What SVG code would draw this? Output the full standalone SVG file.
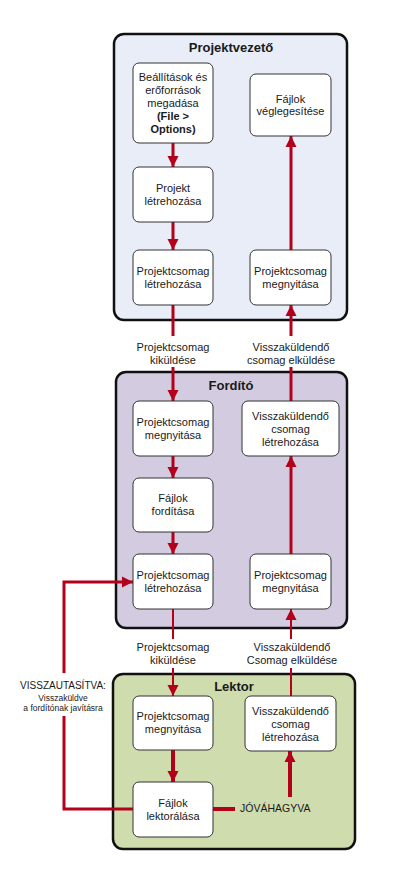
<svg xmlns="http://www.w3.org/2000/svg" width="406" height="877" viewBox="0 0 406 877">
<style>
  text { font-family: "Liberation Sans", Arial, sans-serif; fill: #1a1a1a; }
  .t { font-size: 11px; text-anchor: middle; }
  .b { font-weight: bold; }
  .title { font-size: 13px; font-weight: bold; text-anchor: middle; }
  .cont { stroke: #111; stroke-width: 2.5; }
  .box { fill: #ffffff; stroke: #333; stroke-width: 1; }
  .c3 { fill: none; stroke: #b3001b; stroke-width: 3; }
  .c2 { fill: none; stroke: #b3001b; stroke-width: 2; }
  .c4 { fill: none; stroke: #b3001b; stroke-width: 4; }
</style>
<defs>
  <marker id="ah" markerUnits="userSpaceOnUse" markerWidth="12" markerHeight="12" viewBox="0 0 12 12" refX="11" refY="6" orient="auto">
    <path d="M0,0.5 L11,6 L0,11.5 Z" fill="#b3001b"/>
  </marker>
</defs>
<rect width="406" height="877" fill="#ffffff"/>

<g id="pv">
  <rect class="cont" x="114" y="34" width="233" height="286" rx="10" fill="#e8edf7"/>
  <text class="title" x="231" y="51.5">Projektvezető</text>
</g>
<g id="fordito">
  <rect class="cont" x="116" y="372" width="231" height="256" rx="10" fill="#d3cbe0"/>
  <text class="title" x="231" y="390">Fordító</text>
</g>
<g id="lektor">
  <rect class="cont" x="113" y="674" width="242" height="175" rx="10" fill="#cfdcae"/>
  <text class="title" x="234" y="691">Lektor</text>
</g>

<g id="connectors">
  <line class="c3" x1="173" y1="143" x2="173" y2="167" marker-end="url(#ah)"/>
  <line class="c3" x1="173" y1="222" x2="173" y2="250" marker-end="url(#ah)"/>
  <line class="c3" x1="291" y1="250" x2="291" y2="136" marker-end="url(#ah)"/>
  <line class="c3" x1="173" y1="305" x2="173" y2="336"/>
  <line class="c3" x1="173" y1="367" x2="173" y2="401" marker-end="url(#ah)"/>
  <line class="c3" x1="291" y1="401" x2="291" y2="367"/>
  <line class="c3" x1="291" y1="336" x2="291" y2="305" marker-end="url(#ah)"/>
  <line class="c3" x1="173" y1="456" x2="173" y2="478" marker-end="url(#ah)"/>
  <line class="c3" x1="173" y1="532" x2="173" y2="554" marker-end="url(#ah)"/>
  <line class="c3" x1="291" y1="554" x2="291" y2="456" marker-end="url(#ah)"/>
  <line class="c2" x1="173" y1="609" x2="173" y2="639"/>
  <line class="c2" x1="173" y1="668" x2="173" y2="696" marker-end="url(#ah)"/>
  <line class="c2" x1="291" y1="696" x2="291" y2="668"/>
  <line class="c2" x1="291" y1="639" x2="291" y2="609" marker-end="url(#ah)"/>
  <line class="c4" x1="173" y1="750" x2="173" y2="782" marker-end="url(#ah)"/>
  <line class="c4" x1="213" y1="809" x2="235" y2="809"/>
  <line class="c4" x1="290" y1="797" x2="290" y2="751" marker-end="url(#ah)"/>
  <polyline class="c3" points="133,809 64,809 64,716"/>
  <polyline class="c3" points="64,673 64,582 133,582" marker-end="url(#ah)"/>
</g>

<g id="labels">
  <text class="t" x="173" y="351">Projektcsomag</text>
  <text class="t" x="173" y="364">kiküldése</text>
  <text class="t" x="291" y="351">Visszaküldendő</text>
  <text class="t" x="291" y="364">csomag elküldése</text>
  <text class="t" x="173" y="651">Projektcsomag</text>
  <text class="t" x="173" y="664">kiküldése</text>
  <text class="t" x="292" y="651">Visszaküldendő</text>
  <text class="t" x="292" y="664">Csomag elküldése</text>
  <text x="63" y="689" style="font-size:10px;text-anchor:middle">VISSZAUTASÍTVA:</text>
  <text x="63" y="701" style="font-size:8.5px;text-anchor:middle">Visszaküldve</text>
  <text x="63" y="711" style="font-size:8.5px;text-anchor:middle">a fordítónak javításra</text>
  <text x="240" y="811.5" style="font-size:10.5px">JÓVÁHAGYVA</text>
</g>

<g id="n1">
  <rect class="box" x="133" y="63" width="80" height="80" rx="6"/>
  <text class="t" x="173" y="81">Beállítások és</text>
  <text class="t" x="173" y="94">erőforrások</text>
  <text class="t" x="173" y="107">megadása</text>
  <text class="t b" x="173" y="120">(File &gt;</text>
  <text class="t b" x="173" y="133">Options)</text>
</g>
<g id="n2">
  <rect class="box" x="133" y="167" width="80" height="55" rx="6"/>
  <text class="t" x="173" y="192">Projekt</text>
  <text class="t" x="173" y="205">létrehozása</text>
</g>
<g id="n3">
  <rect class="box" x="133" y="250" width="80" height="55" rx="6"/>
  <text class="t" x="173" y="275">Projektcsomag</text>
  <text class="t" x="173" y="288">létrehozása</text>
</g>
<g id="n4">
  <rect class="box" x="250" y="250" width="81" height="55" rx="6"/>
  <text class="t" x="290.5" y="275">Projektcsomag</text>
  <text class="t" x="290.5" y="288">megnyitása</text>
</g>
<g id="n5">
  <rect class="box" x="250" y="74" width="81" height="62" rx="6"/>
  <text class="t" x="290.5" y="102.5">Fájlok</text>
  <text class="t" x="290.5" y="115">véglegesítése</text>
</g>

<g id="n6">
  <rect class="box" x="133" y="401" width="80" height="55" rx="6"/>
  <text class="t" x="173" y="426">Projektcsomag</text>
  <text class="t" x="173" y="439">megnyitása</text>
</g>
<g id="n7">
  <rect class="box" x="133" y="478" width="80" height="54" rx="6"/>
  <text class="t" x="173" y="502">Fájlok</text>
  <text class="t" x="173" y="515">fordítása</text>
</g>
<g id="n8">
  <rect class="box" x="133" y="554" width="80" height="55" rx="6"/>
  <text class="t" x="173" y="579">Projektcsomag</text>
  <text class="t" x="173" y="592">létrehozása</text>
</g>
<g id="n9">
  <rect class="box" x="242" y="401" width="97" height="55" rx="6"/>
  <text class="t" x="290.5" y="419.5">Visszaküldendő</text>
  <text class="t" x="290.5" y="432.5">csomag</text>
  <text class="t" x="290.5" y="445.5">létrehozása</text>
</g>
<g id="n10">
  <rect class="box" x="250" y="554" width="81" height="55" rx="6"/>
  <text class="t" x="290.5" y="579">Projektcsomag</text>
  <text class="t" x="290.5" y="592">megnyitása</text>
</g>

<g id="n11">
  <rect class="box" x="133" y="696" width="80" height="54" rx="6"/>
  <text class="t" x="173" y="720">Projektcsomag</text>
  <text class="t" x="173" y="733">megnyitása</text>
</g>
<g id="n12">
  <rect class="box" x="245" y="696" width="91" height="55" rx="6"/>
  <text class="t" x="290.5" y="714.5">Visszaküldendő</text>
  <text class="t" x="290.5" y="727.5">csomag</text>
  <text class="t" x="290.5" y="740.5">létrehozása</text>
</g>
<g id="n13">
  <rect class="box" x="133" y="782" width="80" height="55" rx="6"/>
  <text class="t" x="173" y="807">Fájlok</text>
  <text class="t" x="173" y="820">lektorálása</text>
</g>
</svg>
